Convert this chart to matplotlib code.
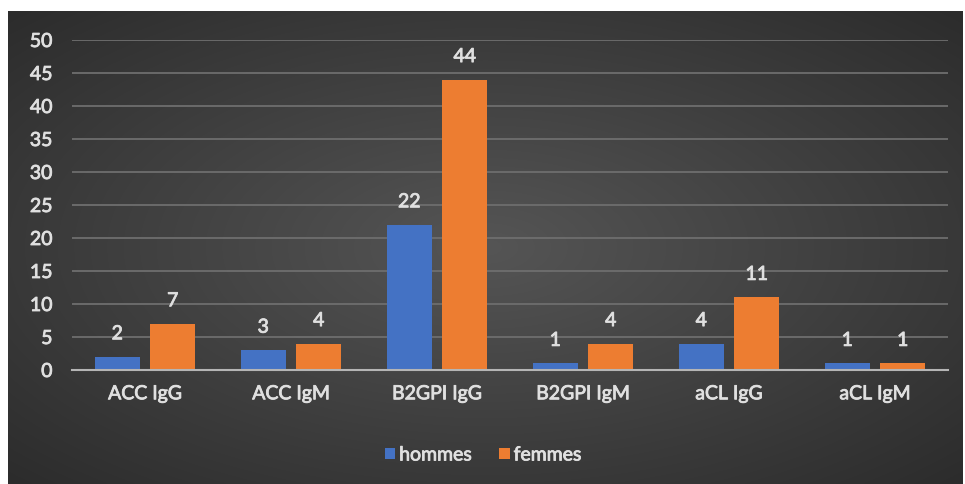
import numpy as np
import matplotlib
matplotlib.use("Agg")
import matplotlib.pyplot as plt
import matplotlib.patheffects as pe
from matplotlib.patches import Patch

categories = ["ACC IgG", "ACC IgM", "B2GPI IgG", "B2GPI IgM", "aCL IgG", "aCL IgM"]
hommes = [2, 3, 22, 1, 4, 1]
femmes = [7, 4, 44, 4, 11, 1]
series_names = ["hommes", "femmes"]
yticks = [0, 5, 10, 15, 20, 25, 30, 35, 40, 45, 50]

plt.rcParams["font.family"] = ["Lato", "DejaVu Sans"]
text_col = "#e0e0e0"
blue = "#4472c4"
orange = "#ed7d31"
fs = 14
thick = [pe.withStroke(linewidth=0.6, foreground=text_col)]

W, H = 965, 484
fig = plt.figure(figsize=(W / 100, H / 100), dpi=100, facecolor="white")

# dark radial-gradient backdrop
bg = fig.add_axes([8 / W, 0, (963 - 8) / W, (H - 11) / H])
bg.set_axis_off()
yy, xx = np.mgrid[-1:1:300j, -1:1:600j]
r = np.sqrt(xx ** 2 + yy ** 2) / np.sqrt(2)
c0 = np.array([0x55, 0x55, 0x55]) / 255
c1 = np.array([0x2c, 0x2c, 0x2c]) / 255
img = c0[None, None, :] * (1 - r[..., None]) + c1[None, None, :] * r[..., None]
bg.imshow(img, aspect="auto", extent=[0, 1, 0, 1], interpolation="bilinear")
bg.set_xlim(0, 1)
bg.set_ylim(0, 1)

ax = fig.add_axes([72 / W, 1 - 370 / H, (948 - 72) / W, (370 - 40) / H])
ax.patch.set_alpha(0)

x = np.arange(len(categories))
off = 0.19
wid = 0.31
b1 = ax.bar(x - off, hommes, wid, color=blue, zorder=3)
b2 = ax.bar(x + off, femmes, wid, color=orange, zorder=3)

for bars, vals in ((b1, hommes), (b2, femmes)):
    for rect, v in zip(bars, vals):
        ax.text(rect.get_x() + rect.get_width() / 2, v + 2.2, str(v),
                ha="center", va="bottom", color=text_col, fontsize=fs,
                path_effects=thick)

ax.set_xlim(-0.5, len(categories) - 0.5)
ax.set_ylim(0, 50)
ax.set_yticks(yticks)
ax.set_xticks(x)
ax.set_xticklabels(categories)
ax.yaxis.grid(True, color="#6e6e6e", linewidth=1.3, zorder=0)
ax.set_axisbelow(True)
for s in ("top", "right", "left"):
    ax.spines[s].set_visible(False)
ax.spines["bottom"].set_color("#b5b5b5")
ax.spines["bottom"].set_linewidth(1.5)
ax.spines["bottom"].set_zorder(4)
ax.tick_params(axis="both", length=0, colors=text_col, labelsize=fs)
ax.tick_params(axis="x", pad=11)
ax.tick_params(axis="y", pad=14)
for lab in ax.get_xticklabels() + ax.get_yticklabels():
    lab.set_path_effects(thick)

handles = [Patch(facecolor=blue), Patch(facecolor=orange)]
leg = fig.legend(handles, series_names, loc="center", bbox_to_anchor=(483 / W, 1 - 455 / H),
                 ncol=2, frameon=False, fontsize=fs, labelcolor=text_col,
                 handlelength=0.55, handleheight=0.55, handletextpad=0.2, columnspacing=1.4)
for t in leg.get_texts():
    t.set_path_effects(thick)

fig.savefig("out.png", dpi=100, facecolor="white")
